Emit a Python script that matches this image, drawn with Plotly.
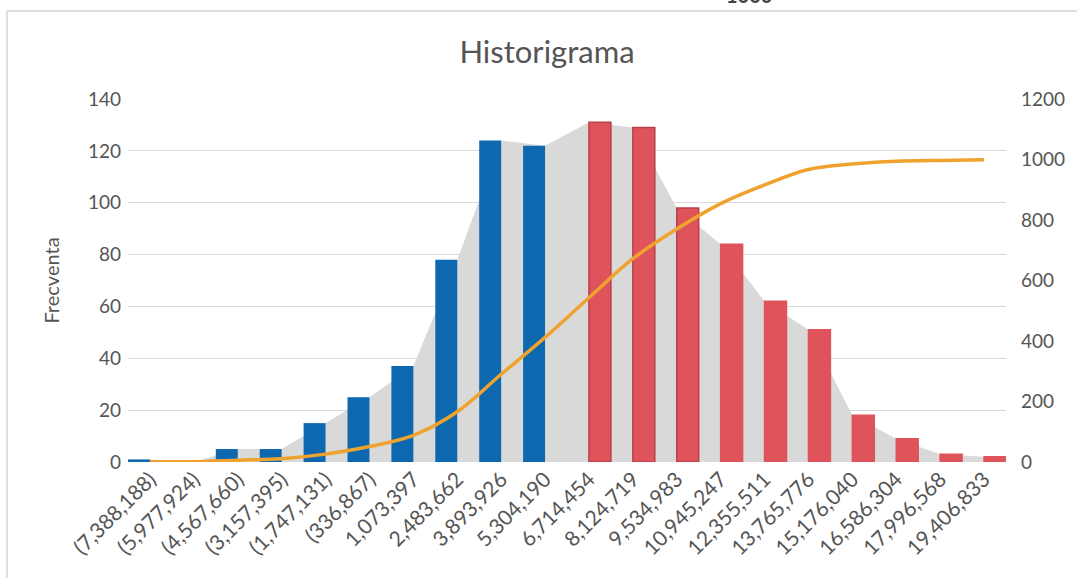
import numpy as np
import plotly.graph_objects as go

# Histogram bins (upper limits) and frequencies
etiquetas = ["(7,388,188)", "(5,977,924)", "(4,567,660)", "(3,157,395)", "(1,747,131)",
             "(336,867)", "1,073,397", "2,483,662", "3,893,926", "5,304,190",
             "6,714,454", "8,124,719", "9,534,983", "10,945,247", "12,355,511",
             "13,765,776", "15,176,040", "16,586,304", "17,996,568", "19,406,833"]
frec_azul = [1, 0, 5, 5, 15, 25, 37, 78, 124, 122]
frec_roja = [131, 129, 98, 84, 62, 51, 18, 9, 3, 2]

n_azul = len(frec_azul)
x_azul = list(range(n_azul))
x_roja = list(range(n_azul, n_azul + len(frec_roja)))
x_todo = list(range(len(etiquetas)))
frec_total = frec_azul + frec_roja
acumulada = np.cumsum(frec_total)

TXT = "#555555"
FONT = "Lato"

fig = go.Figure()

# light grey frequency silhouette behind the columns
fig.add_trace(go.Scatter(
    x=x_todo, y=frec_total, mode="lines", fill="tozeroy",
    line=dict(width=0, color="#D9D9D9"), fillcolor="#D9D9D9",
    yaxis="y", hoverinfo="skip", showlegend=False))

# two column series side by side within each bin (left slot / right slot)
fig.add_trace(go.Bar(
    x=x_azul, y=frec_azul, width=0.5, offset=-0.5,
    marker=dict(color="#0D68B0", line=dict(width=0)),
    yaxis="y2", showlegend=False))

bordes_rojos = ["#B8404A"] * 3 + ["#DF535B"] * (len(frec_roja) - 3)
fig.add_trace(go.Bar(
    x=x_roja, y=frec_roja, width=0.5, offset=0,
    marker=dict(color="#DF535B", line=dict(width=1.5, color=bordes_rojos)),
    yaxis="y2", showlegend=False))

fig.add_trace(go.Scatter(
    x=x_todo, y=acumulada, mode="lines",
    line=dict(color="#EFA22E", width=3.5, shape="spline"),
    yaxis="y3", showlegend=False))

# pixel helpers for frame lines
W, H = 1077, 578
L, R, T, B = 128, 71, 99, 116
pw, ph = W - L - R, H - T - B
def px_x(p):
    return (p - L) / pw
def px_y(p):
    return (H - B - p) / ph

fig.update_layout(
    width=W, height=H,
    margin=dict(l=L, r=R, t=T, b=B),
    paper_bgcolor="white", plot_bgcolor="white",
    barmode="overlay",
    font=dict(family=FONT, color=TXT, size=19),
    title=dict(text="Historigrama", x=547 / W, xanchor="center",
               y=1 - 52 / H, yanchor="middle",
               font=dict(family=FONT, size=31, color=TXT)),
    xaxis=dict(range=[-0.5, len(etiquetas) - 0.5], tickmode="array",
               tickvals=x_todo, ticktext=etiquetas, tickangle=-45,
               showgrid=False, zeroline=False, showline=False, ticks="",
               tickfont=dict(family=FONT, size=21, color=TXT)),
    yaxis=dict(range=[0, 140], dtick=20, showgrid=True, gridcolor="#D9D9D9",
               gridwidth=1, zeroline=False, showline=False, ticks="",
               ticklabelstandoff=6,
               tickfont=dict(family=FONT, size=19, color=TXT),
               title=dict(text="Frecventa", standoff=22,
                          font=dict(family=FONT, size=20, color=TXT))),
    yaxis2=dict(range=[0, 140], overlaying="y", visible=False),
    yaxis3=dict(range=[0, 1200], dtick=200, overlaying="y", side="right",
                showgrid=False, zeroline=False, showline=False, ticks="",
                ticklabelstandoff=14,
                tickfont=dict(family=FONT, size=19, color=TXT)),
    shapes=[
        dict(type="line", xref="paper", yref="paper",
             x0=px_x(7), x1=px_x(W + 5), y0=px_y(11), y1=px_y(11),
             line=dict(color="#D4D4D4", width=1.5)),
        dict(type="line", xref="paper", yref="paper",
             x0=px_x(7), x1=px_x(7), y0=px_y(11), y1=px_y(H + 5),
             line=dict(color="#D4D4D4", width=1.5)),
    ],
    annotations=[
        dict(text="<b>1000</b>", xref="paper", yref="paper",
             x=px_x(749), y=px_y(9), xanchor="center", yanchor="bottom",
             showarrow=False, font=dict(family=FONT, size=20, color="#444444")),
    ],
)

fig.write_html("out.html")
